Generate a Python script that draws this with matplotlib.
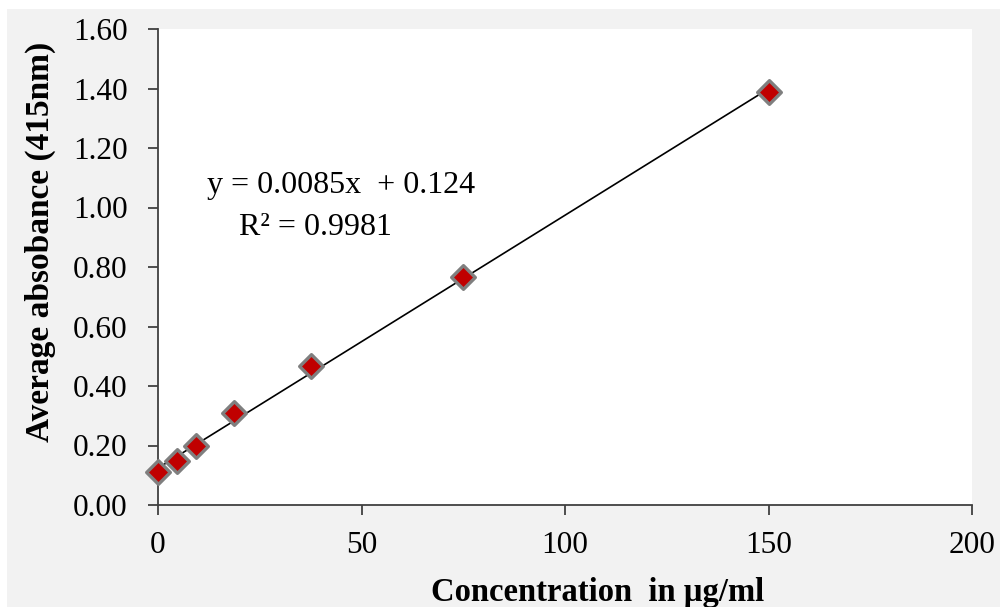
import matplotlib
matplotlib.use("Agg")
import matplotlib.pyplot as plt
from matplotlib.patches import Rectangle
import numpy as np

plt.rcParams['font.family'] = ['Liberation Serif', 'DejaVu Serif']

concentration = [0, 4.6875, 9.375, 18.75, 37.5, 75, 150]
absorbance = [0.111, 0.148, 0.200, 0.310, 0.467, 0.766, 1.387]
slope = 0.0085
intercept = 0.124
eq_text = "y = 0.0085x  + 0.124"
r2_text = "R² = 0.9981"
x_ticks = [0, 50, 100, 150, 200]
y_ticks = [0.0, 0.2, 0.4, 0.6, 0.8, 1.0, 1.2, 1.4, 1.6]

fig = plt.figure(figsize=(10, 6.07), dpi=100)
fig.patch.set_facecolor('white')
fig.patches.append(Rectangle((0.007, 0), 0.993, (607 - 9) / 607, transform=fig.transFigure,
                             facecolor='#f2f2f2', edgecolor='none', zorder=-10))

ax = fig.add_axes([0.158, 102 / 607, 0.814, 476 / 607])
ax.set_facecolor('white')
ax.set_xlim(0, 200)
ax.set_ylim(0, 1.6)

xs = np.array([min(concentration), max(concentration)])
ax.plot(xs, slope * xs + intercept, color='black', lw=1.2, zorder=2)
ax.scatter(concentration, absorbance, marker='D', s=145, facecolor='#c00000',
           edgecolor='#7f7f7f', linewidths=2.4, zorder=3, clip_on=False)

for s in ['top', 'right']:
    ax.spines[s].set_visible(False)
for s in ['left', 'bottom']:
    ax.spines[s].set_color('#404040')
    ax.spines[s].set_linewidth(1.3)

ax.set_xticks(x_ticks)
ax.set_yticks(y_ticks)
ax.set_yticklabels([f"{v:.2f}" for v in y_ticks])
ax.tick_params(axis='both', labelsize=22.5, direction='out', length=7, width=1.3,
               color='#404040')
ax.tick_params(axis='x', pad=12)
ax.tick_params(axis='y', pad=15)

ax.text(0.06, 0.672, eq_text, transform=ax.transAxes, fontsize=23, ha='left', va='center')
ax.text(0.1, 0.582, r2_text, transform=ax.transAxes, fontsize=23, ha='left', va='center')

fig.text(0.598, (607 - 592) / 607, "Concentration  in µg/ml", fontsize=23.5,
         fontweight='bold', ha='center', va='center')
fig.text(0.040, (607 - 242) / 607, "Average absobance (415nm)", fontsize=24,
         fontweight='bold', ha='center', va='center', rotation=90)

fig.savefig("out.png", dpi=100, facecolor=fig.get_facecolor())
